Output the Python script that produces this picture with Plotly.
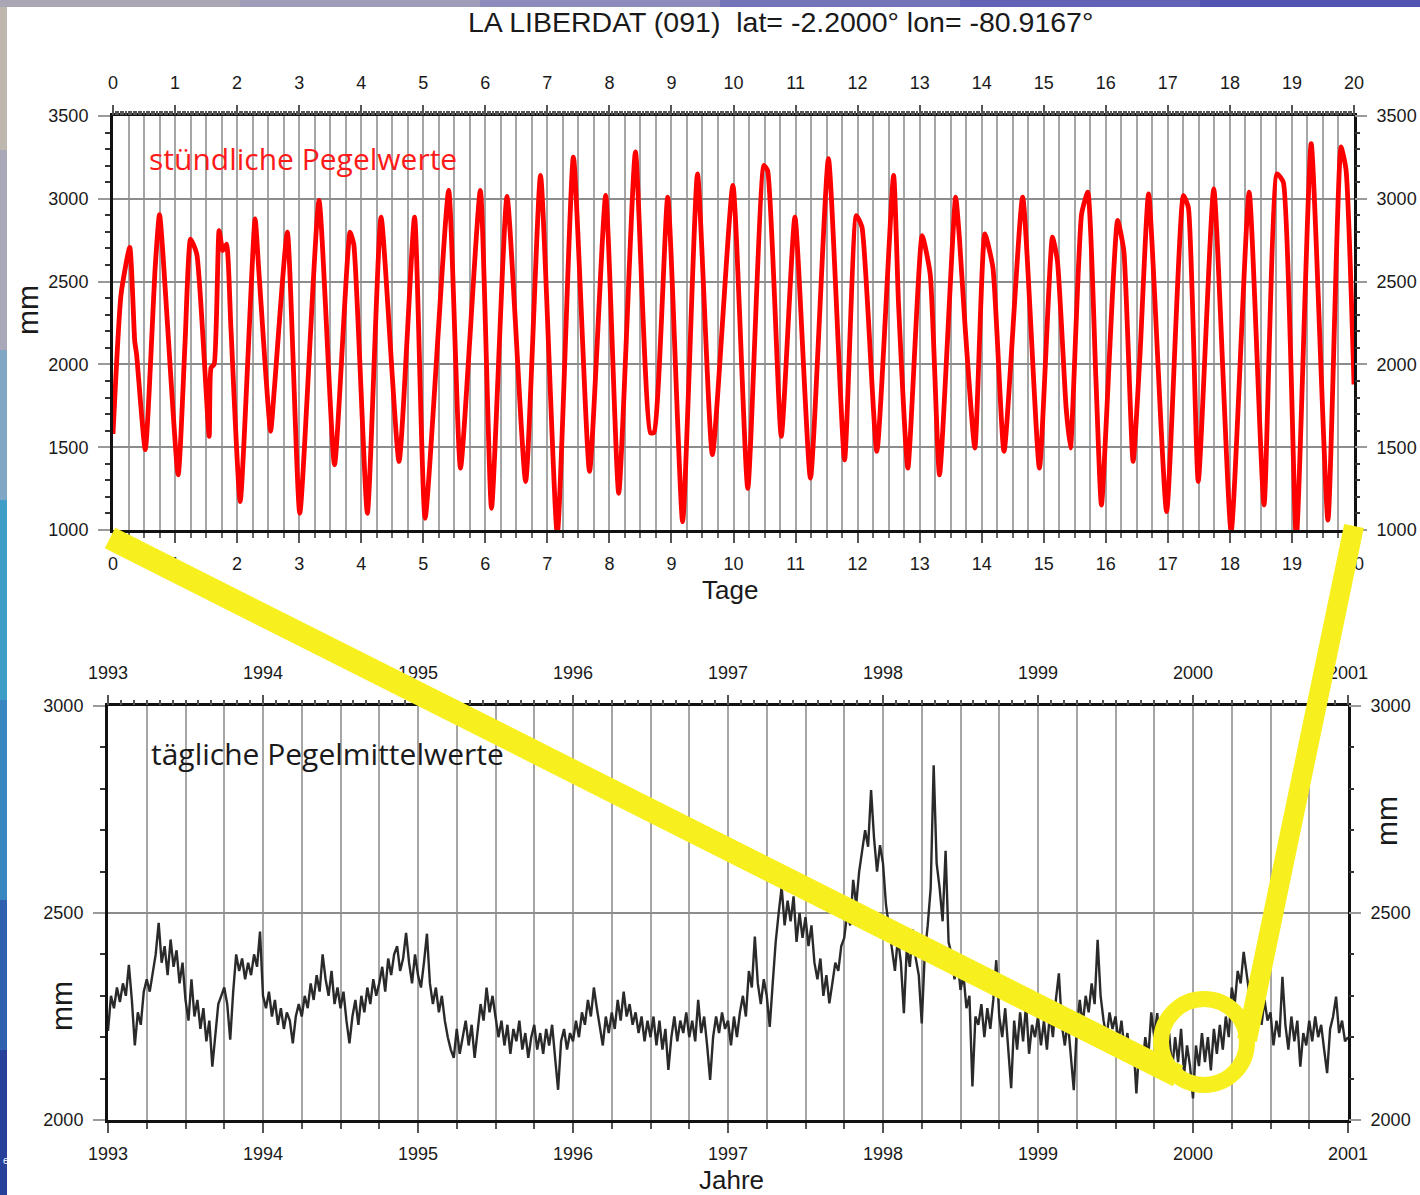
import plotly.graph_objects as go

W, H = 1420, 1195

TITLE = "LA LIBERDAT (091)\u00a0\u00a0lat= -2.2000° lon= -80.9167°"
LABEL_TOP = "stündliche Pegelwerte"
LABEL_BOTTOM = "tägliche Pegelmittelwerte"

# ---- top panel: hourly sea level (day, mm)
hourly_days = [
    0.00, 0.13, 0.27, 0.35, 0.38, 0.52, 0.68, 0.75, 1.05, 1.16, 1.25, 1.35, 1.55, 1.58, 1.63,
    1.71, 1.77, 1.83, 1.90, 2.05, 2.29, 2.35, 2.54, 2.60, 2.81, 3.01, 3.32, 3.57, 3.82, 3.88,
    4.10, 4.32, 4.61, 4.86, 5.03, 5.41, 5.60, 5.92, 6.10, 6.35, 6.65, 6.89, 7.16, 7.42, 7.68,
    7.94, 8.15, 8.42, 8.66, 8.72, 8.94, 9.18, 9.42, 9.66, 9.99, 10.23, 10.49, 10.55, 10.77,
    10.99, 11.24, 11.53, 11.79, 11.98, 12.07, 12.31, 12.58, 12.66, 12.81, 13.04, 13.17, 13.32,
    13.58, 13.64, 13.73, 13.89, 14.05, 14.18, 14.36, 14.66, 14.93, 15.14, 15.22, 15.36, 15.43,
    15.61, 15.71, 15.84, 15.93, 16.19, 16.29, 16.44, 16.55, 16.69, 16.98, 17.25, 17.33, 17.49,
    17.74, 18.02, 18.31, 18.55, 18.76, 18.86, 19.07, 19.31, 19.58, 19.79, 19.87, 20.00,
]
hourly_mm = [
    1580, 2424, 2707, 2141, 2060, 1485, 2586, 2905, 1333, 2121, 2757, 2667, 1566, 1980, 2000,
    2808, 2687, 2727, 2222, 1172, 2879, 2566, 1596, 1850, 2798, 1101, 2990, 1394, 2798, 2727,
    1101, 2889, 1414, 2889, 1071, 3050, 1374, 3050, 1131, 3014, 1293, 3141, 975, 3252, 1354,
    3020, 1222, 3283, 1586, 1590, 3010, 1050, 3151, 1455, 3081, 1252, 3202, 3170, 1566,
    2889, 1313, 3242, 1424, 2899, 2830, 1475, 3141, 2363, 1374, 2778, 2545, 1333,
    3010, 2768, 2242, 1495, 2788, 2586, 1475, 3010, 1374, 2768, 2626, 1740, 1495,
    2909, 3040, 1919, 1151, 2869, 2687, 1414, 2050, 3030, 1111, 3020, 2949, 1293,
    3060, 990, 3040, 1151, 3151, 3101, 950, 3333, 1060, 3313, 3180, 1879,
]
day_ticks = list(range(0, 21))
mm_ticks_top = [1000, 1500, 2000, 2500, 3000, 3500]

# ---- bottom panel: daily means, sampled weekly from the picture (mm)
daily_start_year = 1993
samples_per_year = 52
daily_mm = [
    # 1993
    2215, 2300, 2270, 2320, 2285, 2330, 2300, 2375, 2290, 2180, 2260, 2230, 2310,
    2340, 2310, 2360, 2400, 2476, 2380, 2420, 2350, 2436, 2370, 2410, 2330, 2380,
    2290, 2240, 2340, 2250, 2290, 2220, 2270, 2190, 2240, 2129, 2200, 2280, 2300,
    2320, 2280, 2194, 2310, 2400, 2360, 2390, 2340, 2380, 2350, 2400, 2370, 2455,
    # 1994
    2300, 2270, 2310, 2250, 2290, 2230, 2270, 2220, 2260, 2240, 2185, 2250, 2280,
    2250, 2300, 2270, 2330, 2290, 2350, 2310, 2400, 2340, 2300, 2360, 2280, 2320,
    2270, 2310, 2240, 2185, 2250, 2290, 2230, 2300, 2260, 2320, 2280, 2340, 2300,
    2330, 2370, 2310, 2390, 2350, 2400, 2420, 2360, 2390, 2452, 2380, 2330, 2400,
    # 1995
    2350, 2320, 2380, 2450, 2330, 2280, 2320, 2260, 2300, 2240, 2200, 2170, 2150,
    2220, 2160, 2200, 2240, 2180, 2230, 2150, 2210, 2280, 2240, 2320, 2260, 2300,
    2250, 2200, 2240, 2180, 2230, 2160, 2220, 2190, 2240, 2170, 2210, 2150, 2200,
    2230, 2170, 2210, 2160, 2220, 2180, 2230, 2150, 2073, 2190, 2220, 2170, 2210,
    # 1996
    2190, 2240, 2200, 2260, 2230, 2290, 2250, 2320, 2270, 2230, 2180, 2250, 2210,
    2260, 2220, 2290, 2240, 2310, 2250, 2280, 2230, 2260, 2210, 2250, 2190, 2240,
    2200, 2250, 2180, 2240, 2170, 2220, 2121, 2200, 2250, 2190, 2240, 2210, 2260,
    2200, 2240, 2190, 2290, 2210, 2250, 2180, 2097, 2200, 2250, 2210, 2260, 2220,
    # 1997
    2240, 2180, 2250, 2200, 2260, 2300, 2250, 2360, 2320, 2443, 2330, 2280, 2340,
    2300, 2225, 2330, 2430, 2500, 2563, 2470, 2530, 2480, 2540, 2430, 2500, 2440,
    2490, 2420, 2470, 2380, 2340, 2390, 2300, 2350, 2282, 2330, 2380, 2360, 2420,
    2440, 2500, 2470, 2580, 2520, 2600, 2650, 2700, 2660, 2797, 2680, 2600, 2664,
    # 1998
    2620, 2520, 2470, 2420, 2360, 2440, 2380, 2258, 2420, 2370, 2460, 2390, 2350,
    2233, 2400, 2470, 2560, 2857, 2620, 2560, 2480, 2650, 2430, 2400, 2340, 2390,
    2314, 2350, 2270, 2300, 2081, 2250, 2230, 2280, 2200, 2270, 2220, 2290, 2386,
    2250, 2200, 2270, 2180, 2077, 2240, 2170, 2260, 2190, 2280, 2160, 2230, 2200,
    # 1999
    2250, 2180, 2240, 2170, 2260, 2200, 2290, 2354, 2230, 2180, 2240, 2150, 2072,
    2220, 2290, 2230, 2300, 2260, 2330, 2280, 2435, 2300, 2240, 2200, 2260, 2220,
    2250, 2190, 2240, 2170, 2210, 2140, 2190, 2064, 2180, 2130, 2200, 2150, 2260,
    2200, 2258, 2170, 2230, 2150, 2210, 2120, 2200, 2140, 2220, 2110, 2180, 2130,
    # 2000
    2052, 2180, 2130, 2210, 2140, 2200, 2120, 2220, 2160, 2230, 2170, 2250, 2200,
    2320, 2280, 2360, 2330, 2406, 2350, 2300, 2340, 2260, 2310, 2230, 2290, 2240,
    2260, 2180, 2240, 2200, 2346, 2230, 2170, 2250, 2190, 2240, 2129, 2210, 2180,
    2240, 2190, 2250, 2200, 2230, 2170, 2113, 2220, 2250, 2298, 2210, 2240, 2190,
    2200,
]
year_ticks = list(range(1993, 2002))
mm_ticks_bottom = [2000, 2500, 3000]

daily_years = [daily_start_year + i / samples_per_year for i in range(len(daily_mm))]


def px(x):
    return x / W


def py(y):
    return 1 - y / H


TICKFONT = dict(family="Liberation Sans, Arial, sans-serif", size=18, color="#1a1a1a")
LABELFONT = dict(family="Liberation Sans, Arial, sans-serif", size=26, color="#1a1a1a")
MMFONT = dict(family="Liberation Sans, Arial, sans-serif", size=30, color="#1a1a1a")
GRID = "#a6a6a6"
FRAME = dict(showline=True, linecolor="#111111", linewidth=3, mirror=True)

fig = go.Figure()
fig.add_trace(go.Scatter(x=hourly_days, y=hourly_mm, mode="lines",
                         line=dict(color="#ff0000", width=4.8, shape="spline", smoothing=0.5),
                         xaxis="x", yaxis="y", hoverinfo="skip"))
fig.add_trace(go.Scatter(x=daily_years, y=daily_mm, mode="lines",
                         line=dict(color="#2a2a2a", width=2.4), xaxis="x2", yaxis="y2",
                         hoverinfo="skip"))
# carriers for the mirrored (top / right) tick axes
for xa, ya in [("x3", "y"), ("x", "y3"), ("x4", "y2"), ("x2", "y4")]:
    fig.add_trace(go.Scatter(x=[None], y=[None], mode="lines", xaxis=xa, yaxis=ya,
                             showlegend=False, hoverinfo="skip"))

common_x = dict(ticks="outside", ticklen=10, tickwidth=1.5, tickcolor="#555",
                tickfont=TICKFONT, zeroline=False, fixedrange=True, automargin=False)
common_y = dict(ticks="outside", ticklen=12, tickwidth=1.5, tickcolor="#9a9a9a",
                tickfont=TICKFONT, zeroline=False, fixedrange=True, automargin=False)

fig.update_layout(
    template="none",
    width=W, height=H, autosize=False, showlegend=False,
    margin=dict(l=0, r=0, t=0, b=0, pad=0, autoexpand=False),
    paper_bgcolor="#ffffff", plot_bgcolor="#ffffff",
    xaxis=dict(domain=[px(113), px(1354)], anchor="y", range=[0, 20],
               tickmode="array", tickvals=day_ticks, showgrid=True, gridcolor=GRID, gridwidth=1.5,
               ticklabelstandoff=5,
               minor=dict(tickmode="linear", tick0=0, dtick=0.25, showgrid=True, gridcolor=GRID,
                          gridwidth=1.5, ticks="outside", ticklen=5, tickcolor="#666"),
               **common_x, **FRAME),
    xaxis3=dict(overlaying="x", side="top", anchor="y", range=[0, 20],
                tickmode="array", tickvals=day_ticks, showgrid=False, ticklabelstandoff=9,
                minor=dict(tickmode="linear", tick0=0, dtick=1 / 24, ticks="outside", ticklen=4,
                           tickcolor="#555", showgrid=False),
                **common_x),
    yaxis=dict(domain=[py(530), py(116)], anchor="x", range=[1000, 3500],
               tickmode="array", tickvals=mm_ticks_top, showgrid=True, gridcolor="#8c8c8c",
               gridwidth=1.5, ticklabelstandoff=6,
               minor=dict(tickmode="linear", tick0=1000, dtick=100, ticks="outside", ticklen=5,
                          tickcolor="#333", showgrid=False),
               **common_y, **FRAME),
    yaxis3=dict(overlaying="y", side="right", anchor="x", range=[1000, 3500],
                tickmode="array", tickvals=mm_ticks_top, showgrid=False, ticklabelstandoff=6,
                minor=dict(tickmode="linear", tick0=1000, dtick=100, ticks="outside", ticklen=5,
                           tickcolor="#333", showgrid=False),
                **common_y),
    xaxis2=dict(domain=[px(108), px(1348)], anchor="y2", range=[1993, 2001],
                tickmode="array", tickvals=year_ticks, showgrid=True, gridcolor=GRID, gridwidth=1.5,
                ticklabelstandoff=5,
                minor=dict(tickmode="linear", tick0=1993, dtick=0.25, showgrid=True, gridcolor=GRID,
                           gridwidth=1.5, ticks="outside", ticklen=6, tickcolor="#555"),
                **common_x, **FRAME),
    xaxis4=dict(overlaying="x2", side="top", anchor="y2", range=[1993, 2001],
                tickmode="array", tickvals=year_ticks, showgrid=False, ticklabelstandoff=9,
                minor=dict(tickmode="linear", tick0=1993, dtick=1 / 12, ticks="outside", ticklen=5,
                           tickcolor="#555", showgrid=False),
                **common_x),
    yaxis2=dict(domain=[py(1120), py(706)], anchor="x2", range=[2000, 3000],
                tickmode="array", tickvals=mm_ticks_bottom, showgrid=True, gridcolor="#8c8c8c",
                gridwidth=1.5, ticklabelstandoff=6,
                minor=dict(tickmode="linear", tick0=2000, dtick=100, ticks="outside", ticklen=5,
                           tickcolor="#333", showgrid=False),
                **common_y, **FRAME),
    yaxis4=dict(overlaying="y2", side="right", anchor="x2", range=[2000, 3000],
                tickmode="array", tickvals=mm_ticks_bottom, showgrid=False, ticklabelstandoff=6,
                minor=dict(tickmode="linear", tick0=2000, dtick=100, ticks="outside", ticklen=5,
                           tickcolor="#333", showgrid=False),
                **common_y),
)

# ---- slide background strips (left photo edge, top banner) and white sheet
shapes = []
left_strip = [(0, 150, "#bdb7ad"), (150, 350, "#a9a8b8"), (350, 500, "#7fa6c4"),
              (500, 700, "#3f9ec8"), (700, 900, "#3a86c0"), (900, 1050, "#3060b0"),
              (1050, 1195, "#27409a")]
for y0, y1, c in left_strip:
    shapes.append(dict(type="rect", xref="paper", yref="paper", x0=px(0), x1=px(8),
                       y0=py(y1), y1=py(y0), fillcolor=c, line_width=0, layer="below"))
top_strip = [(0, 240, "#aaa6b4"), (240, 480, "#9f9cb9"), (480, 720, "#8c8bbb"),
             (720, 960, "#7474b8"), (960, 1200, "#6262b6"), (1200, 1420, "#5254b4")]
for x0, x1, c in top_strip:
    shapes.append(dict(type="rect", xref="paper", yref="paper", x0=px(x0), x1=px(x1),
                       y0=py(7), y1=py(0), fillcolor=c, line_width=0, layer="below"))
shapes.append(dict(type="rect", xref="paper", yref="paper", x0=px(7), x1=px(W),
                   y0=py(H), y1=py(7), fillcolor="#ffffff", line_width=0, layer="below"))

# ---- yellow magnifier callout
YEL = "#f8f01e"
shapes.append(dict(type="line", xref="paper", yref="paper", x0=px(110), y0=py(538),
                   x1=px(1178), y1=py(1076), line=dict(color=YEL, width=23)))
shapes.append(dict(type="line", xref="paper", yref="paper", x0=px(1247), y0=py(1040),
                   x1=px(1354), y1=py(526), line=dict(color=YEL, width=20)))
shapes.append(dict(type="circle", xref="paper", yref="paper", x0=px(1161), x1=px(1247),
                   y0=py(1085), y1=py(999), line=dict(color=YEL, width=16)))
fig.update_layout(shapes=shapes)

ann = [
    dict(text=TITLE, x=px(780), y=py(22),
         font=dict(family="Liberation Sans, Arial", size=28.5, color="#1a1a1a")),
    dict(text=LABEL_TOP, x=px(147), y=py(158), xanchor="left",
         font=dict(family="Open Sans, sans-serif", size=30, color="#ff1a1a")),
    dict(text=LABEL_BOTTOM, x=px(149), y=py(753), xanchor="left",
         font=dict(family="Open Sans, sans-serif", size=30, color="#1a1a1a")),
    dict(text="mm", x=px(27), y=py(310), textangle=-90, font=MMFONT),
    dict(text="Tage", x=px(730), y=py(590), font=LABELFONT),
    dict(text="mm", x=px(61), y=py(1006), textangle=-90, font=MMFONT),
    dict(text="mm", x=px(1386), y=py(821), textangle=-90, font=MMFONT),
    dict(text="Jahre", x=px(731), y=py(1180), font=LABELFONT),
    dict(text="e", x=px(0.5), y=py(1160), xanchor="left",
         font=dict(family="Liberation Sans, Arial", size=10, color="#ffffff")),
]
for a in ann:
    a.setdefault("xanchor", "center")
    a.update(xref="paper", yref="paper", yanchor="middle", showarrow=False)
fig.update_layout(annotations=ann)

fig.write_html("out.html", config={"displayModeBar": False},
               post_script="document.body.style.margin='0';")
